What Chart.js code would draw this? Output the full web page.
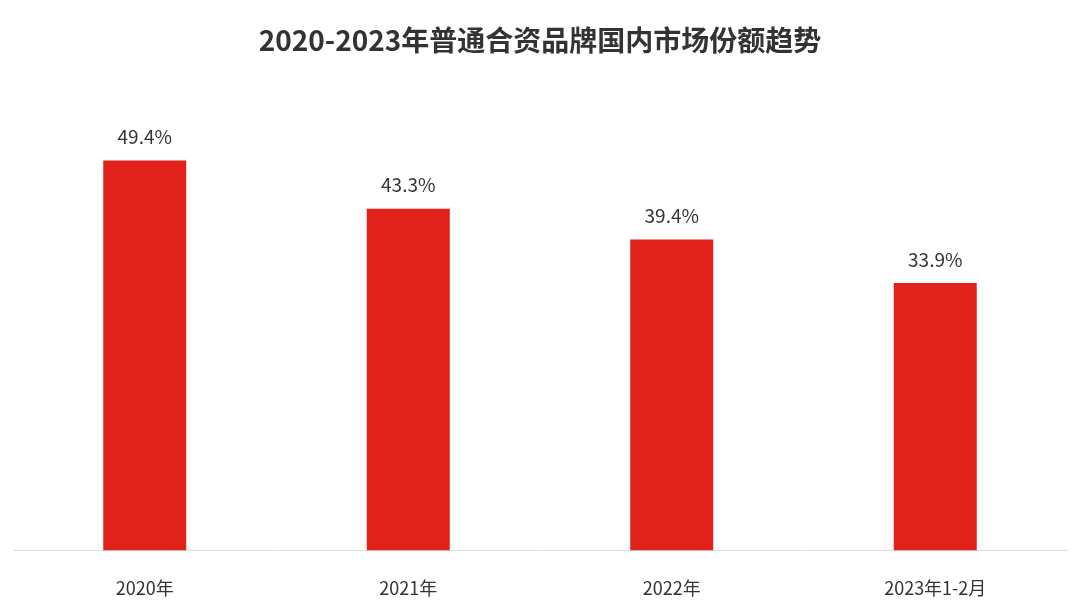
<!DOCTYPE html>
<html><head><meta charset="utf-8">
<script src="https://cdn.jsdelivr.net/npm/chart.js@4/dist/chart.umd.min.js"></script>
<style>html,body{margin:0;padding:0;background:#fff}#w{width:1080px;height:608px}</style>
</head><body><div id="w"><canvas id="c"></canvas></div>
<script>
const categories = ["2020年","2021年","2022年","2023年1-2月"];
const shareValues = [49.4, 43.3, 39.4, 33.9];
const valueLabels = ["49.4%","43.3%","39.4%","33.9%"];
const FONT = '"Noto Sans CJK SC","Noto Sans",sans-serif';
const labelPlugin = {
  id:'vlabels',
  afterDatasetsDraw(chart){
    const ctx = chart.ctx;
    const meta = chart.getDatasetMeta(0);
    ctx.save();
    ctx.font = '19px ' + FONT;
    ctx.fillStyle = '#333';
    ctx.textAlign = 'center';
    ctx.textBaseline = 'bottom';
    meta.data.forEach((el,i)=>{ ctx.fillText(valueLabels[i], el.x, el.y - 14); });
    ctx.restore();
  }
};
new Chart(document.getElementById('c'), {
  type:'bar',
  data:{labels:categories, datasets:[{data:shareValues, backgroundColor:'#e0221b', barPercentage:0.315, categoryPercentage:1}]},
  options:{
    responsive:true, maintainAspectRatio:false, animation:false,
    layout:{padding:{left:13,right:13,bottom:-10}},
    plugins:{
      legend:{display:false}, tooltip:{enabled:false},
      title:{display:true, text:'2020-2023年普通合资品牌国内市场份额趋势', color:'#333',
        font:{family:FONT, size:28, weight:'bold'}, padding:{top:24,bottom:43}}
    },
    scales:{
      x:{grid:{display:false}, border:{color:'#dddddd'},
         ticks:{color:'#333', padding:19, font:{family:FONT,size:18}}},
      y:{display:false, min:0, max:57}
    }
  },
  plugins:[labelPlugin]
});
</script></body></html>
